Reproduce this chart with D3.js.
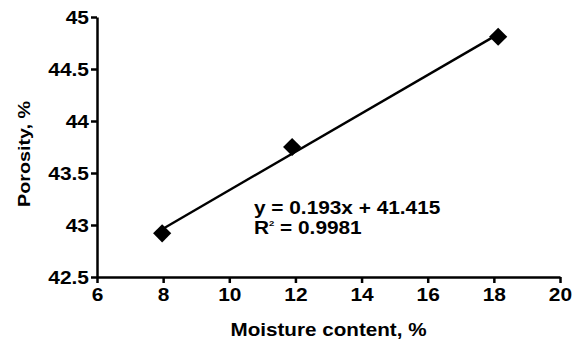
<!DOCTYPE html>
<html>
<head>
<meta charset="utf-8">
<script src="https://cdn.jsdelivr.net/npm/d3@7"></script>
<style>
  body { margin: 0; background: #fff; }
  text { font-family: "Liberation Sans", Arial, sans-serif; font-weight: bold; fill: #000; }
</style>
</head>
<body>
<div id="chart"></div>
<script>
// measured points
var moisture = [7.97, 11.9, 18.13];
var porosity = [42.92, 43.75, 44.81];
var xTicks = [6, 8, 10, 12, 14, 16, 18, 20];
var yTicks = [42.5, 43, 43.5, 44, 44.5, 45];
var eqText = "y = 0.193x + 41.415";
var r2Text = "0.9981";

var W = 574, H = 348;
var margin = { top: 17, right: 14, bottom: 71, left: 97 };
var width = W - margin.left - margin.right,
  height = H - margin.top - margin.bottom;

var svg = d3.select("#chart").append("svg")
  .attr("width", W).attr("height", H)
  .append("g")
  .attr("transform", "translate(" + margin.left + "," + margin.top + ")");

var x = d3.scaleLinear().domain([6, 20]).range([0, width]);
var y = d3.scaleLinear().domain([42.5, 45]).range([height, 0]);

// the source font is a bit wider than Liberation, so stretch text horizontally
function stretch(sel, s) {
  sel.each(function () {
    var t = d3.select(this);
    var tx = +t.attr("x") || 0, ty = +t.attr("y") || 0;
    t.attr("x", 0).attr("y", 0)
      .attr("transform", "translate(" + tx + "," + ty + ") scale(" + s + ",1)");
  });
}

// axes
var xAxis = d3.axisBottom(x).tickValues(xTicks).tickSize(6).tickSizeOuter(0).tickPadding(4);
var yAxis = d3.axisLeft(y).tickValues(yTicks).tickSize(6).tickSizeOuter(0).tickPadding(2)
  .tickFormat(function (d) { return d; });

var gx = svg.append("g").attr("transform", "translate(0," + height + ")").call(xAxis);
var gy = svg.append("g").call(yAxis);
[gx, gy].forEach(function (g) {
  g.selectAll("path, line").attr("stroke", "#000").attr("stroke-width", 2.5);
  g.selectAll("text").style("font-size", "19px");
  stretch(g.selectAll("text"), 1.1);
});
gx.selectAll("text").attr("dy", "0.75em");
gy.selectAll("text").attr("dy", "0.36em");

// trendline (least squares)
var n = moisture.length;
var mx = d3.mean(moisture), my = d3.mean(porosity);
var sxy = 0, sxx = 0;
for (var i = 0; i < n; i++) {
  sxy += (moisture[i] - mx) * (porosity[i] - my);
  sxx += (moisture[i] - mx) * (moisture[i] - mx);
}
var slope = sxy / sxx, icpt = my - slope * mx;
var x0 = d3.min(moisture), x1 = d3.max(moisture);

svg.append("line")
  .attr("x1", x(x0)).attr("y1", y(slope * x0 + icpt))
  .attr("x2", x(x1)).attr("y2", y(slope * x1 + icpt))
  .attr("stroke", "#000").attr("stroke-width", 2.4);

// diamond markers
var diamond = d3.symbol().type(d3.symbolSquare).size(165);
svg.selectAll(".pt").data(moisture).enter()
  .append("path")
  .attr("class", "pt")
  .attr("d", diamond)
  .attr("transform", function (d, i) {
    return "translate(" + x(d) + "," + y(porosity[i]) + ") rotate(45)";
  })
  .attr("fill", "#000");

// equation text
var eq = svg.append("text")
  .attr("x", 157).attr("y", 197)
  .style("font-size", "17.5px")
  .text(eqText);
var r2 = svg.append("text")
  .attr("x", 157).attr("y", 217)
  .style("font-size", "17.5px");
r2.append("tspan").text("R");
r2.append("tspan").attr("dy", -8).style("font-size", "8px").text("2");
r2.append("tspan").attr("dy", 8).text(" = " + r2Text);
stretch(eq, 1.19);
stretch(r2, 1.19);

// axis titles
var xt = svg.append("text")
  .attr("x", width / 2).attr("y", height + 59)
  .attr("text-anchor", "middle")
  .style("font-size", "17.5px")
  .text("Moisture content, %");
stretch(xt, 1.18);

svg.append("text")
  .attr("transform", "translate(-67,137) rotate(-90) scale(1.16,1)")
  .attr("text-anchor", "middle")
  .style("font-size", "17px")
  .text("Porosity, %");
</script>
</body>
</html>
